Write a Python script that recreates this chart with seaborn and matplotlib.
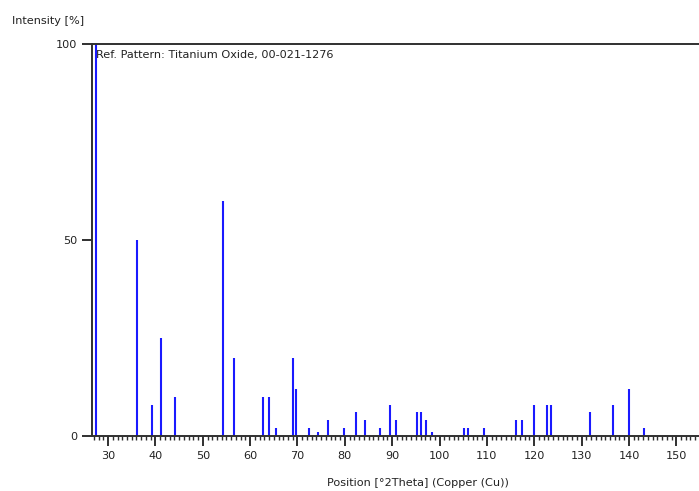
import numpy as np
import seaborn as sns
import matplotlib.pyplot as plt
from matplotlib.ticker import MultipleLocator

# Reference pattern TiO2 (rutile) - position [2theta], relative intensity [%]
positions = [27.44, 36.09, 39.19, 41.24, 44.05, 54.32, 56.64, 62.74, 64.04, 65.48,
             69.01, 69.79, 72.41, 74.41, 76.51, 79.82, 82.33, 84.26, 87.46, 89.56,
             90.71, 95.28, 96.02, 97.18, 98.5, 105.1, 106.0, 109.4, 116.2, 117.5,
             120.0, 122.8, 123.6, 131.8, 136.6, 140.1, 143.2]
intensities = [100, 50, 8, 25, 10, 60, 20, 10, 10, 2,
               20, 12, 2, 1, 4, 2, 6, 4, 2, 8,
               4, 6, 6, 4, 1, 2, 2, 2, 4, 4,
               8, 8, 8, 6, 8, 12, 2]
y_ticks = [0, 50, 100]
title_text = "Ref. Pattern: Titanium Oxide, 00-021-1276"

sns.set_style("white")
plt.rcParams['font.family'] = ['DejaVu Sans']
fs = 8.1

fig = plt.figure(figsize=(6.99, 4.91), dpi=100)
ax = fig.add_axes([0.1316, 0.112, 0.8684, 0.7984])

ax.vlines(positions, 0, intensities, color='#1a1aff', linewidth=1.5)

ax.set_xlim(26.6, 154.8)
ax.set_ylim(0, 100)
ax.xaxis.set_major_locator(MultipleLocator(10))
ax.xaxis.set_minor_locator(MultipleLocator(1))
ax.set_yticks(y_ticks)

for side in ['left', 'bottom', 'top']:
    ax.spines[side].set_color('#303030')
    ax.spines[side].set_linewidth(1.4)
ax.spines['right'].set_visible(False)

ax.tick_params(axis='x', which='major', direction='out', length=7, width=1.4,
               color='#303030', labelsize=fs, labelcolor='#222222', bottom=True)
ax.tick_params(axis='x', which='minor', direction='out', length=3, width=1.0,
               color='#303030', bottom=True)
ax.tick_params(axis='y', which='major', direction='out', length=7, width=1.4,
               color='#303030', labelsize=fs, labelcolor='#222222', left=True)

ax.set_xlabel('Position [°2Theta] (Copper (Cu))', fontsize=fs, color='#222222')
ax.xaxis.set_label_coords(0.537, -0.108)
fig.text(0.017, 0.957, 'Intensity [%]', fontsize=fs, color='#222222', va='center')
ax.text(0.006, 0.985, title_text, transform=ax.transAxes, fontsize=fs,
        color='#222222', va='top', ha='left')

fig.savefig('out.png', dpi=100)
